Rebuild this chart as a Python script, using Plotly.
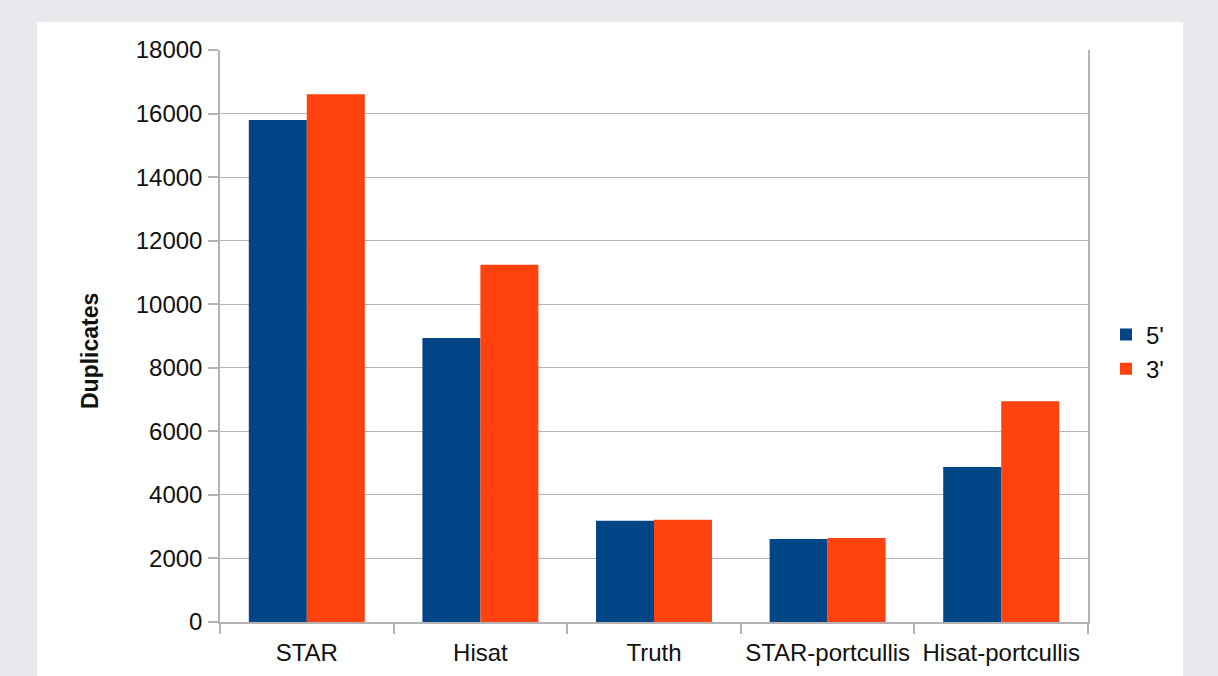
import plotly.graph_objects as go

categories = ["STAR", "Hisat", "Truth", "STAR-portcullis", "Hisat-portcullis"]
series_names = ["5'", "3'"]
values_5 = [15800, 8940, 3190, 2610, 4880]
values_3 = [16610, 11240, 3220, 2640, 6950]
y_ticks = [0, 2000, 4000, 6000, 8000, 10000, 12000, 14000, 16000, 18000]
colors = ["#004586", "#ff420e"]

FONT = "Liberation Sans, Arial, sans-serif"
W, H = 1218, 676
L, R, T, B = 220, 130, 50, 54
pw = W - L - R
ph = H - T - B

fig = go.Figure()
for name, vals, col in zip(series_names, [values_5, values_3], colors):
    fig.add_trace(go.Bar(x=categories, y=vals, name=name, marker=dict(color=col, line=dict(width=0))))

fig.update_layout(
    width=W, height=H,
    margin=dict(l=L, r=R, t=T, b=B, pad=0, autoexpand=False),
    paper_bgcolor="#e8e9ed",
    plot_bgcolor="white",
    barmode="group",
    bargap=0.332,
    bargroupgap=0,
    font=dict(family=FONT, size=24, color="#111111"),
    showlegend=True,
    legend=dict(x=(1106 - L) / pw, y=(622 - 352) / ph, xanchor="left", yanchor="middle",
                font=dict(size=24), bgcolor="rgba(0,0,0,0)", tracegroupgap=0),
    shapes=[dict(type="rect", xref="paper", yref="paper",
                 x0=(37 - L) / pw, x1=(1183 - L) / pw,
                 y0=-(B + 5) / ph, y1=1 + (T - 22) / ph,
                 fillcolor="white", line=dict(width=0), layer="below")],
    annotations=[dict(text="<b>Duplicates</b>", textangle=-90, xref="paper", yref="paper",
                      x=(90 - L) / pw, y=(622 - 351) / ph, xanchor="center", yanchor="middle",
                      showarrow=False, font=dict(size=23, color="#111111"))],
)
fig.update_xaxes(
    showline=True, linecolor="#b3b3b3", linewidth=1.5, automargin=False, tickangle=0,
    ticks="outside", tickson="boundaries", ticklen=10, tickcolor="#b3b3b3", tickwidth=1.5,
    showgrid=False, tickfont=dict(size=24), ticklabelstandoff=8,
)
fig.update_yaxes(
    range=[0, 18000], tickvals=y_ticks, ticktext=[str(v) for v in y_ticks],
    showline=True, mirror=True, linecolor="#b3b3b3", linewidth=1.5, automargin=False,
    ticks="outside", ticklen=10, tickcolor="#b3b3b3", tickwidth=1.5,
    showgrid=True, gridcolor="#b3b3b3", gridwidth=1.3, zeroline=False,
    tickfont=dict(size=24), ticklabelstandoff=1,
)
fig.write_html("out.html")
